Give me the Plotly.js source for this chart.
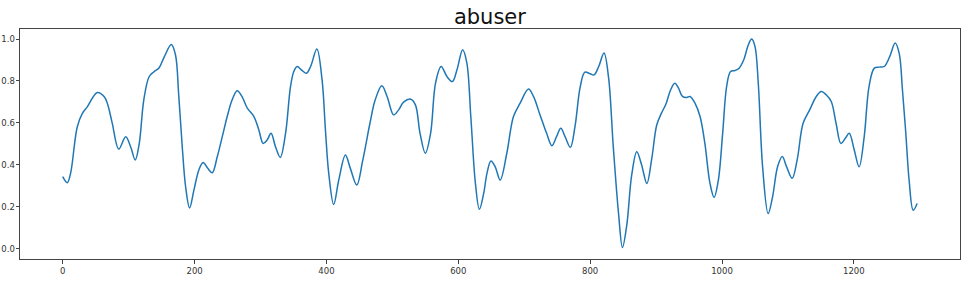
<!DOCTYPE html>
<html>
<head>
<meta charset="utf-8">
<script src="https://cdn.plot.ly/plotly-3.0.1.min.js"></script>
<style>html,body{margin:0;padding:0;background:#fff}#chart{width:965px;height:288px}</style>
</head>
<body>
<div id="chart"></div>
<script>
const xValues = [0,7,12,22,30,37,52.5,63,68,75,85,95.5,103,110,116,123,131,138,146,154,164.7,171,176,181.3,186.4,192.4,199,206.5,213,220,226.8,234.4,242,249.5,257,264.6,272,280,290,297.5,304,310,316,322.7,330,338,345.5,350.5,355.6,363,369.7,376,385.5,393.4,398.5,403.5,411,418.7,428.8,436,446,455,466,474,484,492,502,509.5,517,528,535,542,550,558,565.5,574,583,591,598,606.6,613,619,626,632,638.5,643.5,649.5,656,663.6,673.6,683.7,693.8,706.5,714,724,734,742,749,755.5,762,770,777,785,792,800,806,813,821,828,835,843,849,855.5,863,870.7,878,886,893.5,901,908,915,922,928.5,934,940,946.5,951.5,959,966.7,974,981.8,988,994.5,1001,1007,1013,1019.6,1026,1033,1040,1045,1050,1055,1061.6,1070,1076.7,1084.3,1091.4,1098,1106.5,1114,1123,1133,1143,1150.6,1158,1165.7,1173,1180.3,1187,1193,1200.6,1208,1215.7,1223,1231,1238.4,1246,1254.5,1262.6,1268.7,1273.7,1278.8,1283.8,1290,1296];
const yValues = [0.343,0.314,0.36,0.58,0.646,0.675,0.745,0.725,0.69,0.6,0.475,0.534,0.486,0.423,0.50,0.71,0.82,0.843,0.862,0.915,0.974,0.925,0.73,0.486,0.295,0.194,0.279,0.375,0.411,0.383,0.362,0.438,0.534,0.63,0.71,0.753,0.725,0.67,0.63,0.566,0.502,0.518,0.55,0.486,0.435,0.55,0.773,0.845,0.869,0.85,0.837,0.869,0.952,0.805,0.566,0.359,0.21,0.327,0.446,0.385,0.303,0.42,0.598,0.71,0.777,0.726,0.638,0.662,0.699,0.713,0.686,0.55,0.455,0.55,0.79,0.869,0.82,0.797,0.853,0.949,0.885,0.63,0.31,0.187,0.263,0.359,0.418,0.39,0.327,0.455,0.63,0.694,0.761,0.726,0.638,0.55,0.491,0.534,0.574,0.534,0.483,0.582,0.773,0.842,0.834,0.829,0.869,0.933,0.815,0.49,0.17,0.005,0.11,0.35,0.462,0.40,0.311,0.43,0.59,0.645,0.69,0.757,0.789,0.766,0.726,0.721,0.726,0.694,0.63,0.502,0.311,0.244,0.327,0.55,0.773,0.845,0.85,0.861,0.901,0.973,1.0,0.965,0.79,0.39,0.167,0.247,0.39,0.439,0.39,0.335,0.423,0.598,0.662,0.726,0.75,0.734,0.702,0.598,0.502,0.526,0.55,0.47,0.39,0.534,0.773,0.861,0.866,0.869,0.917,0.981,0.933,0.758,0.55,0.327,0.183,0.215];
const xTicks = [0,200,400,600,800,1000,1200];
const yTicks = [0.0,0.2,0.4,0.6,0.8,1.0];
const yTickLabels = ['0.0','0.2','0.4','0.6','0.8','1.0'];
const titleText = 'abuser';

const font = {family: 'DejaVu Sans, sans-serif', size: 8.5, color: '#333'};
const axisCommon = {
  showgrid: false, zeroline: false, showline: true, mirror: true,
  linecolor: '#444', linewidth: 1, ticks: 'outside', ticklen: 3.5, tickwidth: 1,
  tickcolor: '#444', tickfont: font
};
Plotly.newPlot('chart', [{
  x: xValues, y: yValues, type: 'scatter', mode: 'lines',
  line: {color: '#1f77b4', width: 1.5, shape: 'spline', smoothing: 1},
  hoverinfo: 'skip'
}], {
  width: 965, height: 288,
  margin: {l: 19.5, r: 4.5, t: 29.3, b: 29.3, pad: 0},
  paper_bgcolor: '#fff', plot_bgcolor: '#fff',
  showlegend: false,
  title: {text: titleText, x: 0.5077, xanchor: 'center', y: 1 - 17/288, yanchor: 'middle',
          font: {family: 'DejaVu Sans, sans-serif', size: 21, color: '#111'}},
  xaxis: Object.assign({}, axisCommon, {range: [-64.8, 1361], tickvals: xTicks, ticktext: xTicks.map(String)}),
  yaxis: Object.assign({}, axisCommon, {range: [-0.05, 1.048], tickvals: yTicks, ticktext: yTickLabels, ticklabelstandoff: -1})
}, {staticPlot: true, displayModeBar: false});
</script>
</body>
</html>
